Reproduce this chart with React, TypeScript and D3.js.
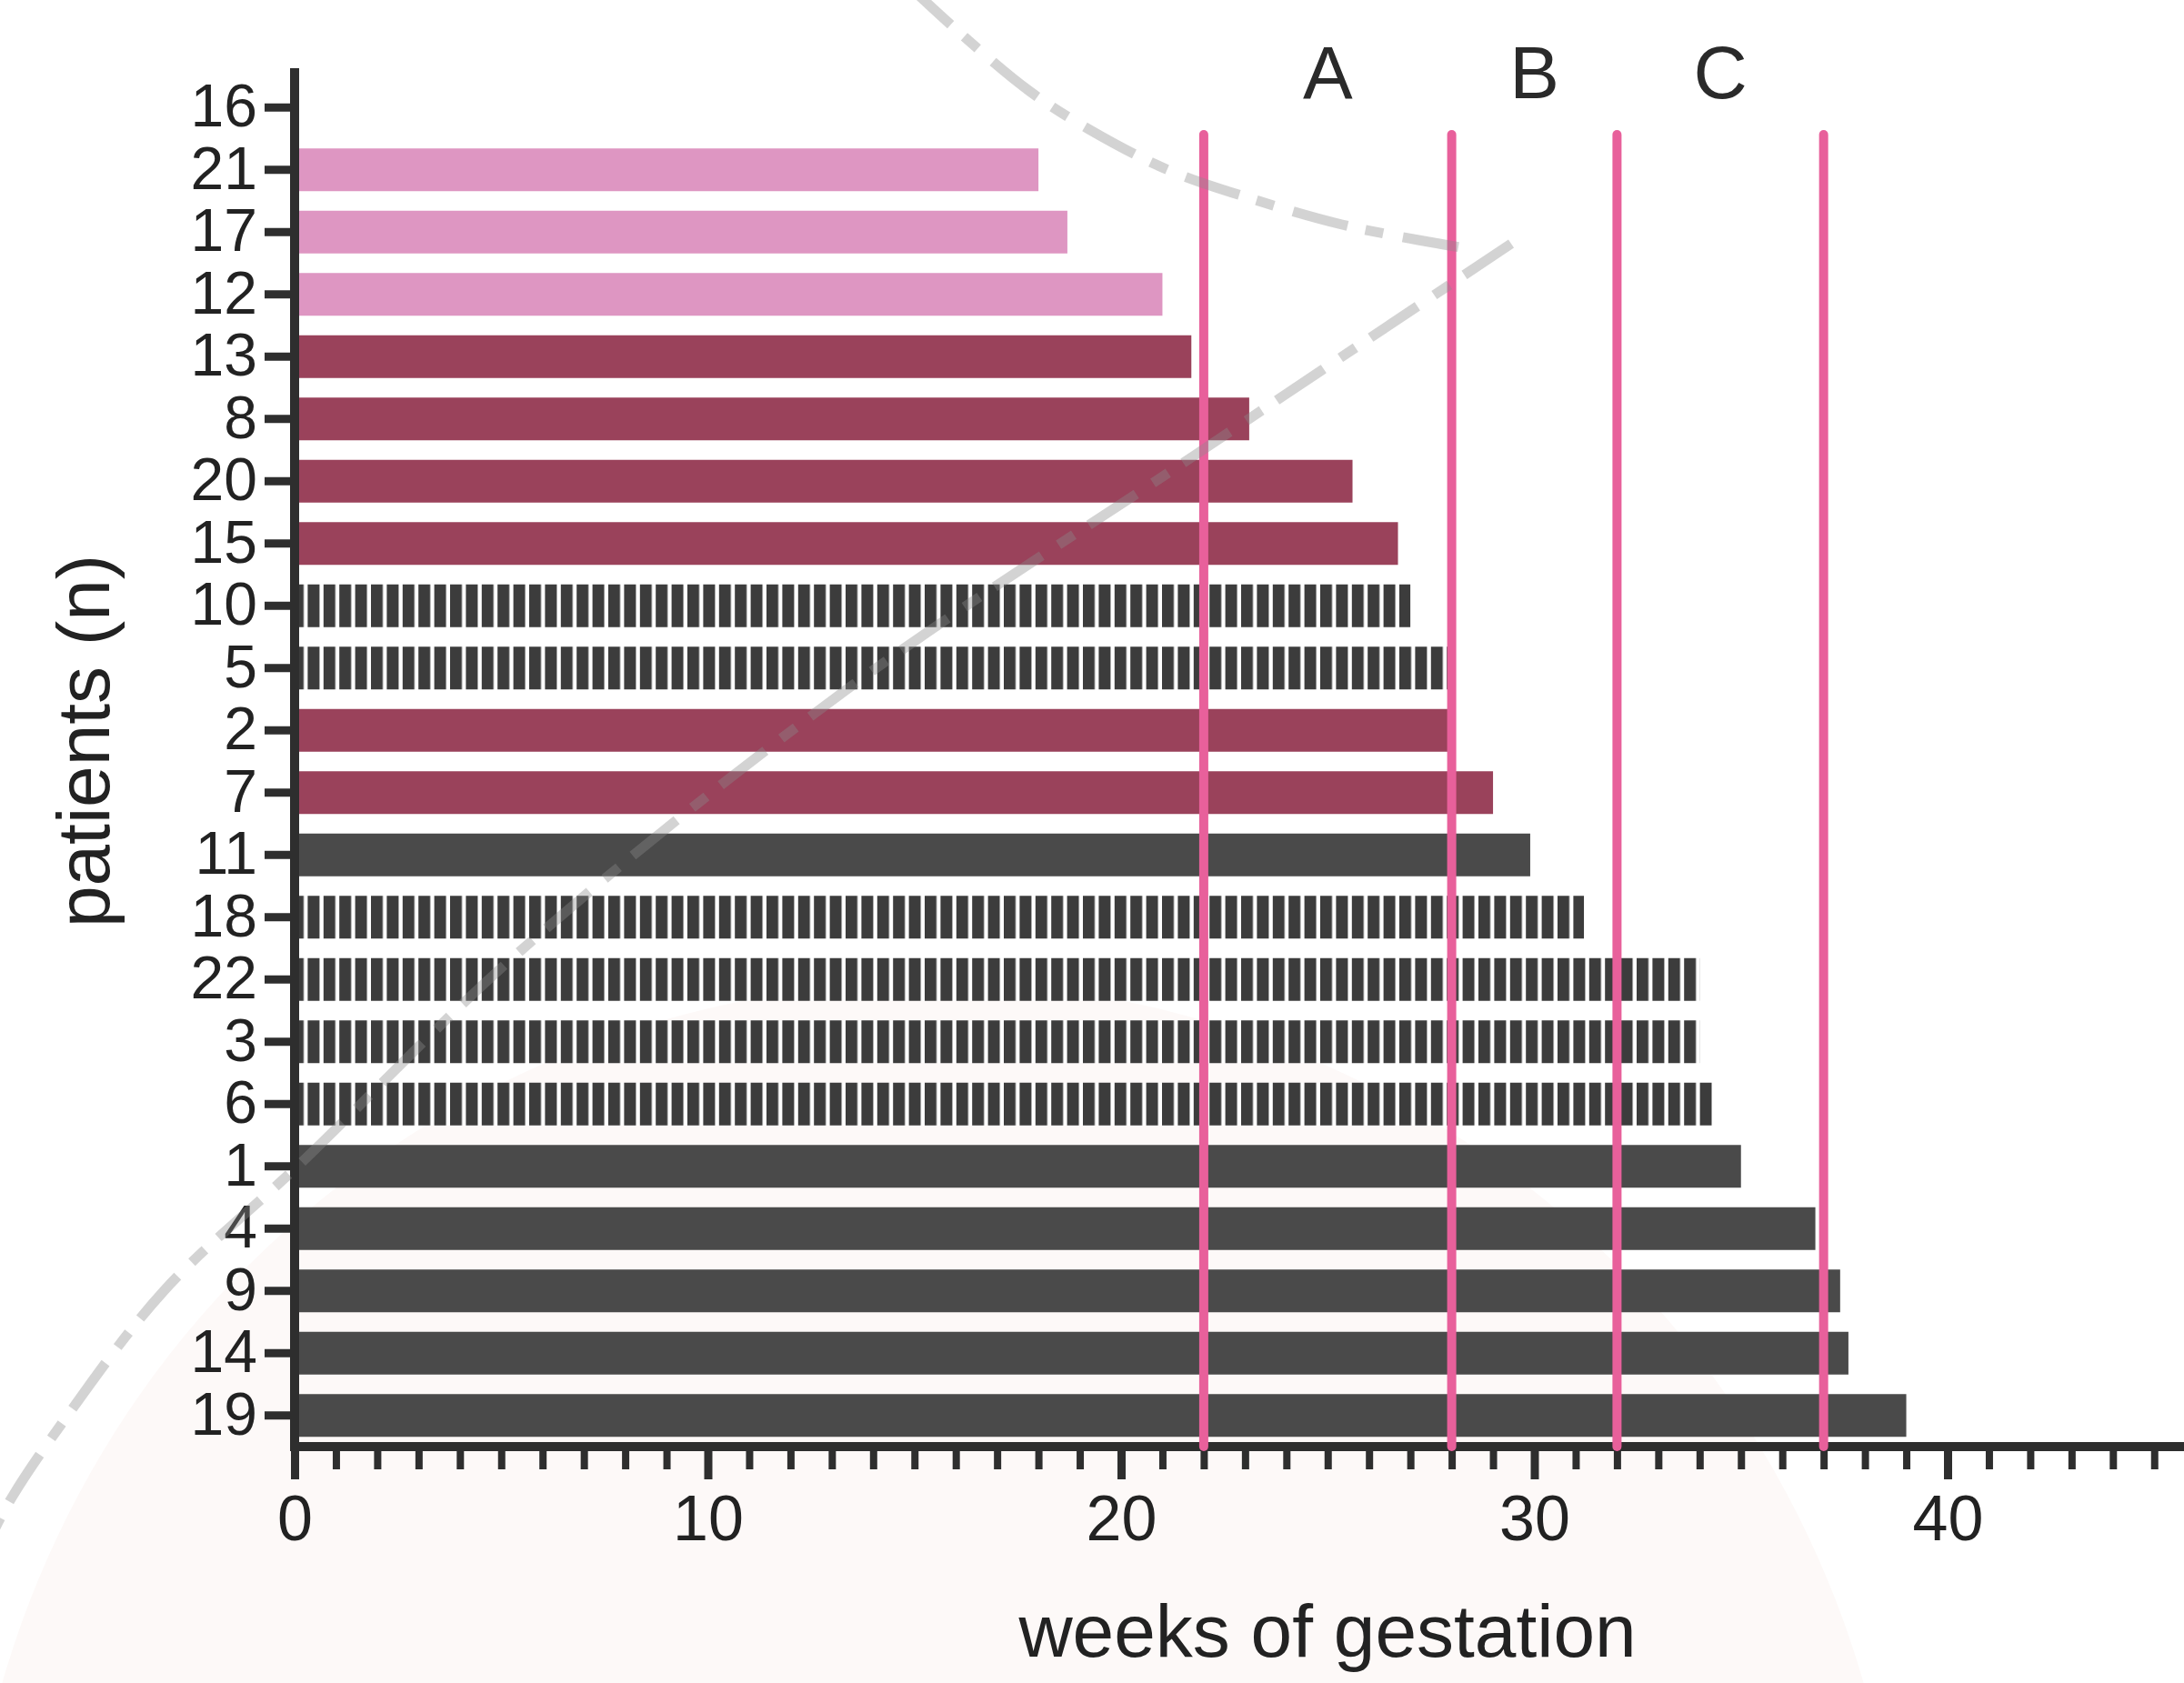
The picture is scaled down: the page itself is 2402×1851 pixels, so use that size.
import React, { useEffect, useRef } from "react";
import * as d3 from "d3";

// patients, top to bottom
const patients = ["16", "21", "17", "12", "13", "8", "20", "15", "10", "5", "2", "7", "11", "18", "22", "3", "6", "1", "4", "9", "14", "19"];
// weeks of gestation reached (patient 16 has no bar)
const gestationWeeks = [0, 18.0, 18.7, 21.0, 21.7, 23.1, 25.6, 26.7, 27.0, 27.9, 27.9, 29.0, 29.9, 31.2, 34.0, 34.0, 34.3, 35.0, 36.8, 37.4, 37.6, 39.0];
// bar style group per patient
const groups = ["none", "light", "light", "light", "maroon", "maroon", "maroon", "maroon", "hatched", "hatched", "maroon", "maroon", "dark", "hatched", "hatched", "hatched", "hatched", "dark", "dark", "dark", "dark", "dark"];
// vertical cut-off lines and the periods between them
const cutoffWeeks = [22, 28, 32, 37];
const periodLabels = ["A", "B", "C"];
const majorTicks = [0, 10, 20, 30, 40];

const colors = {
  light: "#de96c2",
  maroon: "#9a425b",
  dark: "#4a4a4a",
  hatched: "#3c3c3c",
};

// background watermark traces (decoration only)
const watermarkTop = [[1000, -15], [1060, 40], [1132, 100], [1199, 143], [1285, 187], [1381, 220], [1476, 247], [1560, 264], [1618, 274]];
const watermarkDiag = [[1662, 268], [1315, 500], [933, 757], [571, 1047], [330, 1280], [180, 1420], [67, 1567], [13, 1647], [-10, 1690]];

export default function App() {
  const ref = useRef(null);

  useEffect(() => {
    const svg = d3.select(ref.current);
    svg.selectAll("*").remove();

    const width = 2402;
    const height = 1851;
    const axisX = 324;
    const axisY = 1591;
    const font = "'Liberation Sans', Arial, sans-serif";
    const ink = "#2e2e2e";

    const x = d3.scaleLinear().domain([0, 45]).range([axisX, axisX + 45 * 45.45]);
    const y = d3
      .scaleBand()
      .domain(patients)
      .range([84, axisY])
      .paddingInner(0.314)
      .paddingOuter(0.157);

    svg.attr("width", width).attr("height", height).attr("viewBox", [0, 0, width, height]);

    // faint background disc
    svg.append("circle").attr("cx", 1026).attr("cy", 2145).attr("r", 1065).attr("fill", "#fdf9f8");

    // vertical stripe pattern for the hatched bars
    const pat = svg
      .append("defs")
      .append("pattern")
      .attr("id", "hatch")
      .attr("patternUnits", "userSpaceOnUse")
      .attr("x", 321)
      .attr("y", 0)
      .attr("width", 17.4)
      .attr("height", 20);
    pat.append("rect").attr("width", 17.4).attr("height", 20).attr("fill", "#ffffff");
    pat.append("rect").attr("width", 13).attr("height", 20).attr("fill", colors.hatched);

    const rows = patients
      .map((p, i) => ({ p, w: gestationWeeks[i], g: groups[i] }))
      .filter(d => d.w > 0);

    // bars
    svg
      .append("g")
      .selectAll("rect")
      .data(rows)
      .join("rect")
      .attr("x", x(0))
      .attr("y", d => y(d.p))
      .attr("width", d => x(d.w) - x(0))
      .attr("height", y.bandwidth())
      .attr("fill", d => (d.g === "hatched" ? "url(#hatch)" : colors[d.g]));

    // y axis
    const gy = svg
      .append("g")
      .attr("transform", `translate(${axisX},0)`)
      .call(d3.axisLeft(y).tickSize(33).tickPadding(8).tickSizeOuter(0));
    gy.select(".domain").remove();
    gy.selectAll(".tick line").attr("stroke", ink).attr("stroke-width", 9);
    gy.selectAll(".tick text")
      .attr("fill", "#222")
      .style("font-family", font)
      .style("font-size", "66px");

    // x axis: minor ticks every week, labelled major ticks every 10
    const gxMinor = svg
      .append("g")
      .attr("transform", `translate(0,${axisY})`)
      .call(d3.axisBottom(x).tickValues(d3.range(0, 46)).tickSize(25).tickFormat(() => ""));
    gxMinor.select(".domain").remove();
    gxMinor.selectAll(".tick line").attr("stroke", ink).attr("stroke-width", 8);

    const gxMajor = svg
      .append("g")
      .attr("transform", `translate(0,${axisY})`)
      .call(d3.axisBottom(x).tickValues(majorTicks).tickSize(36).tickPadding(17).tickFormat(d3.format("d")));
    gxMajor.select(".domain").remove();
    gxMajor.selectAll(".tick line").attr("stroke", ink).attr("stroke-width", 9);
    gxMajor.selectAll(".tick text")
      .attr("fill", "#222")
      .style("font-family", font)
      .style("font-size", "70px");

    // axis lines
    svg.append("line")
      .attr("x1", axisX).attr("x2", axisX)
      .attr("y1", 75).attr("y2", axisY + 5)
      .attr("stroke", ink).attr("stroke-width", 10);
    svg.append("line")
      .attr("x1", axisX - 5).attr("x2", width)
      .attr("y1", axisY).attr("y2", axisY)
      .attr("stroke", ink).attr("stroke-width", 10);

    // cut-off lines
    svg
      .append("g")
      .selectAll("line")
      .data(cutoffWeeks)
      .join("line")
      .attr("x1", d => x(d))
      .attr("x2", d => x(d))
      .attr("y1", 148)
      .attr("y2", axisY)
      .attr("stroke", "#e8609b")
      .attr("stroke-width", 10)
      .attr("stroke-linecap", "round");

    // period labels centred between cut-offs
    svg
      .append("g")
      .selectAll("text")
      .data(periodLabels)
      .join("text")
      .attr("x", (d, i) => x((cutoffWeeks[i] + cutoffWeeks[i + 1]) / 2))
      .attr("y", 108)
      .attr("text-anchor", "middle")
      .attr("fill", "#2a2a2a")
      .style("font-family", font)
      .style("font-size", "82px")
      .text(d => d);

    // watermark dash-dot traces
    const line = d3.line().curve(d3.curveCatmullRom.alpha(0.5));
    svg
      .append("g")
      .selectAll("path")
      .data([watermarkTop, watermarkDiag])
      .join("path")
      .attr("d", d => line(d))
      .attr("fill", "none")
      .attr("stroke", "#8c8c8c")
      .attr("stroke-opacity", 0.38)
      .attr("stroke-width", 11)
      .attr("stroke-dasharray", "62 20 20 22");

    // axis titles
    svg.append("text")
      .attr("x", 1460)
      .attr("y", 1822)
      .attr("text-anchor", "middle")
      .attr("fill", "#222")
      .style("font-family", font)
      .style("font-size", "82px")
      .text("weeks of gestation");

    svg.append("text")
      .attr("transform", "translate(120,815) rotate(-90)")
      .attr("text-anchor", "middle")
      .attr("fill", "#222")
      .style("font-family", font)
      .style("font-size", "82px")
      .text("patients (n)");
  }, []);

  return (
    <svg
      ref={ref}
      style={{ position: "absolute", left: 0, top: 0, display: "block", background: "#ffffff" }}
    />
  );
}
